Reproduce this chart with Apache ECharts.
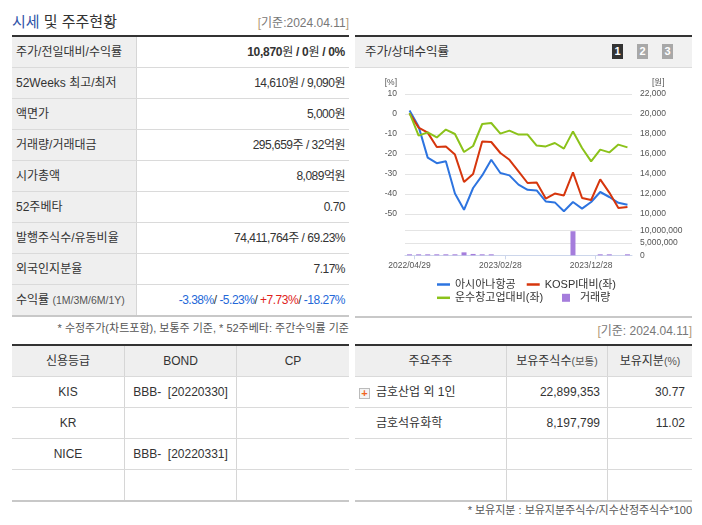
<!DOCTYPE html>
<html><head><meta charset="utf-8">
<script src="https://cdn.jsdelivr.net/npm/echarts@6/dist/echarts.min.js"></script>
<style>
body{margin:0;background:#fff;font-family:"Liberation Sans","Noto Sans CJK KR",sans-serif;color:#333;font-size:12px;width:702px;height:525px;overflow:hidden;position:relative;}
.a{position:absolute;}
.line2{height:2px;background:#333;}
.gline{height:2px;background:#c8c8c8;}
.r{display:flex;height:31px;box-sizing:border-box;border-bottom:1px solid #dadada;}
.r.last{height:32px;border-bottom:2px solid #c8c8c8;}
.l{width:125px;box-sizing:border-box;background:#efefef;border-right:1px solid #d6d6d6;padding-left:4px;line-height:30px;color:#333;white-space:nowrap;}
.v{flex:1;text-align:right;padding-right:4px;line-height:30px;letter-spacing:-0.5px;white-space:nowrap;}
.c{box-sizing:border-box;text-align:center;line-height:30px;border-right:1px solid #d6d6d6;white-space:nowrap;}
.c:last-child{border-right:none;}
.hd{background:#efefef;}
.small{font-size:10.5px;color:#555;}
.blue{color:#2468d8;}
.red{color:#e0231c;}
.btn{width:11px;height:15px;color:#fff;font-weight:bold;font-size:11px;line-height:15px;text-align:center;}
</style></head><body>

<!-- left: 시세 및 주주현황 -->
<div class="a" style="left:12px;top:12px;font-size:15px;line-height:20px;"><span style="color:#2f54a8">시세</span> 및 주주현황</div>
<div class="a" style="right:353px;top:15px;line-height:16px;font-size:12px;color:#777;"><span style="color:#b49a78">[</span>기준:2024.04.11<span style="color:#b49a78">]</span></div>
<div class="a line2" style="left:12px;top:35px;width:337px;"></div>
<div class="a" style="left:12px;top:37px;width:337px;">
  <div class="r"><div class="l">주가/전일대비/수익률</div><div class="v" style="font-weight:bold;letter-spacing:-0.3px;">10,870<span style="font-weight:normal">원</span> / 0<span style="font-weight:normal">원</span> / 0%</div></div>
  <div class="r"><div class="l">52Weeks 최고/최저</div><div class="v">14,610원 / 9,090원</div></div>
  <div class="r"><div class="l">액면가</div><div class="v">5,000원</div></div>
  <div class="r"><div class="l">거래량/거래대금</div><div class="v">295,659주 / 32억원</div></div>
  <div class="r"><div class="l">시가총액</div><div class="v">8,089억원</div></div>
  <div class="r"><div class="l">52주베타</div><div class="v">0.70</div></div>
  <div class="r"><div class="l">발행주식수/유동비율</div><div class="v">74,411,764주 / 69.23%</div></div>
  <div class="r"><div class="l">외국인지분율</div><div class="v">7.17%</div></div>
  <div class="r last"><div class="l">수익률 <span class="small">(1M/3M/6M/1Y)</span></div><div class="v"><span class="blue">-3.38%</span>/ <span class="blue">-5.23%</span>/ <span class="red">+7.73%</span>/ <span class="blue">-18.27%</span></div></div>
</div>
<div class="a" style="right:353px;top:320px;line-height:16px;font-size:11px;color:#555;">* 수정주가(차트포함), 보통주 기준, * 52주베타: 주간수익률 기준</div>

<!-- right: 주가/상대수익률 -->
<div class="a line2" style="left:355px;top:35px;width:337px;"></div>
<div class="a" style="left:355px;top:37px;width:337px;height:30px;background:#f1f1f1;border-bottom:1px solid #dcdcdc;"></div>
<div class="a" style="left:365px;top:37px;line-height:30px;font-size:12.5px;color:#333;">주가/상대수익률</div>
<div class="a btn" style="left:612px;top:44px;background:#333;">1</div>
<div class="a btn" style="left:637px;top:44px;background:#a8a8a8;">2</div>
<div class="a btn" style="left:662px;top:44px;background:#a8a8a8;">3</div>
<div id="chart" class="a" style="left:355px;top:68px;width:337px;height:248px;"></div>
<div class="a gline" style="left:355px;top:316px;width:337px;"></div>
<div class="a" style="right:10px;top:323px;line-height:16px;font-size:12px;color:#777;"><span style="color:#b49a78">[</span>기준: 2024.04.11<span style="color:#b49a78">]</span></div>

<!-- bottom-left: 신용등급 -->
<div class="a line2" style="left:12px;top:344px;width:337px;"></div>
<div class="a" style="left:12px;top:346px;width:337px;">
  <div class="r hd"><div class="c" style="width:113px">신용등급</div><div class="c" style="width:112px">BOND</div><div class="c" style="width:112px">CP</div></div>
  <div class="r"><div class="c" style="width:113px">KIS</div><div class="c" style="width:112px">BBB- &nbsp;[20220330]</div><div class="c" style="width:112px"></div></div>
  <div class="r"><div class="c" style="width:113px">KR</div><div class="c" style="width:112px"></div><div class="c" style="width:112px"></div></div>
  <div class="r"><div class="c" style="width:113px">NICE</div><div class="c" style="width:112px">BBB- &nbsp;[20220331]</div><div class="c" style="width:112px"></div></div>
  <div class="r last"><div class="c" style="width:113px"></div><div class="c" style="width:112px"></div><div class="c" style="width:112px"></div></div>
</div>

<!-- bottom-right: 주요주주 -->
<div class="a line2" style="left:355px;top:344px;width:337px;"></div>
<div class="a" style="left:355px;top:346px;width:337px;">
  <div class="r hd"><div class="c" style="width:152px">주요주주</div><div class="c" style="width:101px">보유주식수<span class="small">(보통)</span></div><div class="c" style="width:84px">보유지분<span class="small">(%)</span></div></div>
  <div class="r"><div class="c" style="width:152px;text-align:left;padding-left:21px;position:relative;"><span style="position:absolute;left:4px;top:11px;width:9px;height:9px;border:1px solid #bbb;background:#f4f4f4;color:#f0641e;font-weight:bold;font-size:11px;line-height:9px;text-align:center;">+</span>금호산업 외 1인</div><div class="c" style="width:101px;text-align:right;padding-right:7px;">22,899,353</div><div class="c" style="width:84px;text-align:right;padding-right:7px;">30.77</div></div>
  <div class="r"><div class="c" style="width:152px;text-align:left;padding-left:21px;">금호석유화학</div><div class="c" style="width:101px;text-align:right;padding-right:7px;">8,197,799</div><div class="c" style="width:84px;text-align:right;padding-right:7px;">11.02</div></div>
  <div class="r"><div class="c" style="width:152px"></div><div class="c" style="width:101px"></div><div class="c" style="width:84px"></div></div>
  <div class="r last"><div class="c" style="width:152px"></div><div class="c" style="width:101px"></div><div class="c" style="width:84px"></div></div>
</div>
<div class="a" style="right:10px;top:502px;line-height:16px;font-size:11px;color:#555;">* 보유지분 : 보유지분주식수/지수산정주식수*100</div>

<script>
const dates = ['2022/04/29','2022/05/31','2022/06/30','2022/07/29','2022/08/31','2022/09/30','2022/10/31','2022/11/30','2022/12/29','2023/01/31','2023/02/28','2023/03/31','2023/04/28','2023/05/31','2023/06/30','2023/07/31','2023/08/31','2023/09/27','2023/10/31','2023/11/30','2023/12/28','2024/01/31','2024/02/29','2024/03/29','2024/04/11'];
const asianaPrice = [20360,18740,15640,15080,15280,12040,10420,12600,13860,15420,14100,13860,12940,12420,12360,11260,11160,10280,11200,10540,11200,12200,11700,11120,10920];
const kospiRel = [0.3,-6.8,-9.3,-16.5,-16.2,-20.3,-34.0,-30.0,-13.7,-14.0,-19.5,-22.9,-28.7,-34.5,-34.3,-42.3,-39.8,-40.7,-29.2,-42.0,-43.0,-32.7,-39.3,-47.0,-46.5];
const transportRel = [0.5,-10.8,-9.2,-11.7,-7.8,-10.0,-19.0,-16.0,-5.0,-4.5,-9.8,-8.3,-10.3,-10.3,-15.8,-16.2,-14.5,-17.3,-8.7,-17.0,-23.7,-17.8,-19.2,-15.3,-16.7];
const volume = [400000,400000,400000,400000,400000,400000,1200000,550000,400000,400000,null,null,null,null,null,null,null,null,9780000,null,null,400000,400000,null,400000];
const names = ['아시아나항공','KOSPI대비(좌)','운수창고업대비(좌)','거래량'];
const colors = ['#2d74e0','#d6360d','#8bc21a','#a57ddc'];

const FONT = '"Liberation Sans","Noto Sans CJK KR",sans-serif';
const LBL = '#555';
const fmt = v => Number(v).toLocaleString('en-US');
const legText = {fontSize:11, color:'#333', fontFamily:FONT};

const chart = echarts.init(document.getElementById('chart'), null, {renderer:'canvas'});
chart.setOption({
  animation:false,
  textStyle:{fontFamily:FONT},
  grid:[
    {left:50, top:26, width:227, height:120},
    {left:50, top:162.7, width:227, height:24.6}
  ],
  legend:[
    {data:[{name:names[0], icon:'rect'},{name:names[1], icon:'rect'}], left:82, top:211, padding:0,
     itemWidth:13, itemHeight:2.5, itemGap:11, selectedMode:false, textStyle:legText},
    {data:[{name:names[2], icon:'rect'}], left:82, top:224.3, padding:0,
     itemWidth:13, itemHeight:2.5, selectedMode:false, textStyle:legText},
    {data:[{name:names[3], icon:'rect'}], left:207, top:224.3, padding:0,
     itemWidth:8, itemHeight:8, selectedMode:false,
     textStyle:Object.assign({padding:[0,0,0,5]}, legText)}
  ],
  xAxis:[
    {type:'category', gridIndex:0, data:dates, boundaryGap:true, show:false},
    {type:'category', gridIndex:1, data:dates, boundaryGap:true,
     axisLine:{show:true, lineStyle:{color:'#ccd6eb', width:1}},
     axisTick:{show:false},
     axisLabel:{interval:(i)=>i%10===0, color:LBL, fontSize:8.5, margin:6, hideOverlap:false}},
    {type:'value', gridIndex:1, min:-0.5, max:24.5, position:'bottom',
     axisLine:{show:false}, axisLabel:{show:false}, splitLine:{show:false},
     axisTick:{show:true, length:4, customValues:[0.5,10.5,20.5], lineStyle:{color:'#ccd6eb'}}}
  ],
  yAxis:[
    {type:'value', gridIndex:0, min:-50, max:10, interval:10, position:'left',
     name:'[%]', nameLocation:'end', nameGap:7,
     nameTextStyle:{align:'right', padding:[0,8,0,0], color:LBL, fontSize:8.5},
     axisLine:{show:false}, axisTick:{show:false},
     axisLabel:{color:LBL, fontSize:8.5, margin:8},
     splitLine:{lineStyle:{color:'#e4e4e4', width:1}}},
    {type:'value', gridIndex:0, min:10000, max:22000, interval:2000, position:'right',
     name:'[원]', nameLocation:'end', nameGap:7,
     nameTextStyle:{align:'left', padding:[0,0,0,20], color:LBL, fontSize:8.5},
     axisLine:{show:false}, axisTick:{show:false},
     axisLabel:{color:LBL, fontSize:8.5, margin:8, formatter:fmt},
     splitLine:{show:false}},
    {type:'value', gridIndex:1, min:0, max:10000000, interval:5000000, position:'right',
     axisLine:{show:false}, axisTick:{show:false},
     axisLabel:{color:LBL, fontSize:8.5, margin:8, formatter:fmt},
     splitLine:{lineStyle:{color:'#e4e4e4', width:1}}}
  ],
  series:[
    {name:names[0], type:'line', xAxisIndex:0, yAxisIndex:1, data:asianaPrice, symbol:'none', color:colors[0], lineStyle:{width:2}},
    {name:names[1], type:'line', xAxisIndex:0, yAxisIndex:0, data:kospiRel, symbol:'none', color:colors[1], lineStyle:{width:2}},
    {name:names[2], type:'line', xAxisIndex:0, yAxisIndex:0, data:transportRel, symbol:'none', color:colors[2], lineStyle:{width:2}},
    {name:names[3], type:'bar', xAxisIndex:1, yAxisIndex:2, data:volume, barWidth:5, color:colors[3]}
  ]
});
</script>
</body></html>
